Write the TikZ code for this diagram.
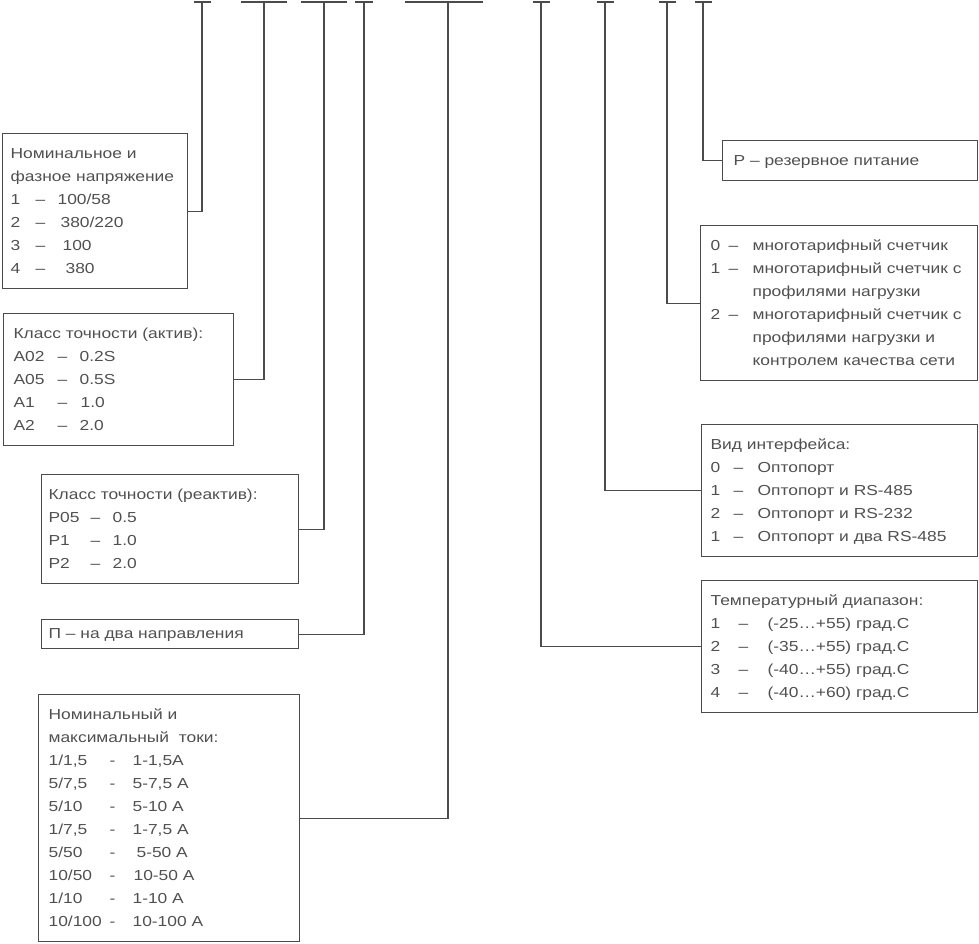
\documentclass[tikz,border=0pt]{standalone}
\usepackage{fontspec}
\setmainfont[FakeStretch=1.2]{Liberation Sans}
\definecolor{ink}{RGB}{75,75,75}
\definecolor{txt}{RGB}{80,80,80}
\newcommand\cl[5]{\mbox{\makebox[#1][l]{#3}\makebox[#2][l]{#4}#5}}
\tikzset{
  box/.style={draw=ink, line width=1.2pt, rectangle, anchor=north west, align=left,
    inner ysep=8.5pt, font=\fontsize{14.5}{23}\selectfont, text=txt},
  wire/.style={draw=ink, line width=1.2pt},
  bar/.style={draw=ink, line width=1.8pt}
}
\begin{document}
\begin{tikzpicture}[x=1pt,y=-1pt]
\useasboundingbox (0,0) rectangle (979,943);

% left boxes
\node[box, inner xsep=8pt, text width=169pt] (b1) at (2,133)
 {\strut Номинальное и\\
  фазное напряжение\\
  \cl{25pt}{22pt}{1}{–}{100/58}\\
  \cl{25pt}{25pt}{2}{–}{380/220}\\
  \cl{25pt}{27pt}{3}{–}{100}\\
  \cl{25pt}{30pt}{4}{–}{380}\strut};

\node[box, inner xsep=10pt, text width=210pt] (b2) at (3,313)
 {\strut Класс точности (актив):\\
  \cl{44pt}{22pt}{A02}{–}{0.2S}\\
  \cl{44pt}{22pt}{A05}{–}{0.5S}\\
  \cl{44pt}{23pt}{A1}{–}{1.0}\\
  \cl{44pt}{22pt}{A2}{–}{2.0}\strut};

\node[box, inner xsep=7pt, text width=243pt] (b3) at (41,474)
 {\strut Класс точности (реактив):\\
  \cl{42pt}{22pt}{P05}{–}{0.5}\\
  \cl{42pt}{22pt}{P1}{–}{1.0}\\
  \cl{42pt}{22pt}{P2}{–}{2.0}\strut};

\node[box, inner xsep=7pt, inner ysep=3pt, text width=243pt] (b4) at (41,619)
 {\strut П – на два направления};

\node[box, inner xsep=10pt, text width=241pt] (b5) at (38,694)
 {\strut Номинальный и\\
  максимальный\ \ токи:\\
  \cl{61pt}{23pt}{1/1,5}{-}{1-1,5A}\\
  \cl{61pt}{23pt}{5/7,5}{-}{5-7,5 A}\\
  \cl{61pt}{23pt}{5/10}{-}{5-10 A}\\
  \cl{61pt}{23pt}{1/7,5}{-}{1-7,5 A}\\
  \cl{61pt}{27pt}{5/50}{-}{5-50 A}\\
  \cl{61pt}{24pt}{10/50}{-}{10-50 A}\\
  \cl{61pt}{23pt}{1/10}{-}{1-10 A}\\
  \cl{61pt}{23pt}{10/100}{-}{10-100 A}\strut};

% right boxes
\node[box, inner xsep=11pt, text width=233pt] (bp) at (722,140)
 {\strut Р – резервное питание\strut};

\node[box, inner xsep=10pt, text width=257pt] (bt) at (700,225)
 {\strut\cl{18pt}{24pt}{0}{–}{многотарифный счетчик}\\
  \cl{18pt}{24pt}{1}{–}{многотарифный счетчик с}\\
  \hspace*{42pt}профилями нагрузки\\
  \cl{18pt}{24pt}{2}{–}{многотарифный счетчик с}\\
  \hspace*{42pt}профилями нагрузки и\\
  \hspace*{42pt}контролем качества сети\strut};

\node[box, inner xsep=9pt, text width=258pt] (bi) at (701,424)
 {\strut Вид интерфейса:\\
  \cl{23pt}{24pt}{0}{–}{Оптопорт}\\
  \cl{23pt}{24pt}{1}{–}{Оптопорт и RS-485}\\
  \cl{23pt}{24pt}{2}{–}{Оптопорт и RS-232}\\
  \cl{23pt}{24pt}{1}{–}{Оптопорт и два RS-485}\strut};

\node[box, inner xsep=9pt, text width=258pt] (bd) at (701,580)
 {\strut Температурный диапазон:\\
  \cl{28pt}{29pt}{1}{–}{(-25…+55) град.С}\\
  \cl{28pt}{29pt}{2}{–}{(-35…+55) град.С}\\
  \cl{28pt}{29pt}{3}{–}{(-40…+55) град.С}\\
  \cl{28pt}{29pt}{4}{–}{(-40…+60) град.С}\strut};

% top bars
\coordinate (t1) at (202,2);
\coordinate (t2) at (264,2);
\coordinate (t3) at (324,2);
\coordinate (t4) at (364,2);
\coordinate (t5) at (448,2);
\coordinate (t6) at (541,2);
\coordinate (t7) at (605,2);
\coordinate (t8) at (667,2);
\coordinate (t9) at (703,2);

\draw[bar] ([xshift=-8.5pt]t1) -- ([xshift=8.5pt]t1);
\draw[bar] ([xshift=-23pt]t2) -- ([xshift=23pt]t2);
\draw[bar] ([xshift=-23pt]t3) -- ([xshift=23pt]t3);
\draw[bar] ([xshift=-9pt]t4) -- ([xshift=9pt]t4);
\draw[bar] ([xshift=-43pt]t5) -- ([xshift=35pt]t5);
\draw[bar] ([xshift=-8.5pt]t6) -- ([xshift=8.5pt]t6);
\draw[bar] ([xshift=-8.5pt]t7) -- ([xshift=8.5pt]t7);
\draw[bar] ([xshift=-8.5pt]t8) -- ([xshift=8.5pt]t8);
\draw[bar] ([xshift=-8.5pt]t9) -- ([xshift=8.5pt]t9);

% connectors
\draw[wire] (t1) |- (b1.east);
\draw[wire] (t2) |- (b2.east);
\draw[wire] (t3) |- (b3.east);
\draw[wire] (t4) |- (b4.east);
\draw[wire] (t5) |- (b5.east);
\draw[wire] (t6) |- (bd.west);
\draw[wire] (t7) |- (bi.west);
\draw[wire] (t8) |- (bt.west);
\draw[wire] (t9) |- (bp.west);
\end{tikzpicture}
\end{document}
